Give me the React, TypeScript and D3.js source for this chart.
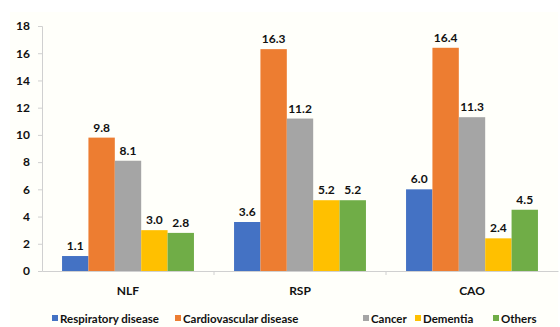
import { useRef, useEffect } from "react";
import * as d3 from "d3";

const categories = ["NLF", "RSP", "CAO"];
const seriesNames = ["Respiratory disease", "Cardiovascular disease", "Cancer", "Dementia", "Others"];
const respiratory = [1.1, 3.6, 6.0];
const cardiovascular = [9.8, 16.3, 16.4];
const cancer = [8.1, 11.2, 11.3];
const dementia = [3.0, 5.2, 2.4];
const others = [2.8, 5.2, 4.5];
const yTicks = [0, 2, 4, 6, 8, 10, 12, 14, 16, 18];
const colors = ["#4472C4", "#ED7D31", "#A5A5A5", "#FFC000", "#70AD47"];

const App = () => {
  const svgRef = useRef(null);

  useEffect(() => {
    const width = 560;
    const height = 327;
    const svg = d3.select(svgRef.current);
    svg.selectAll("*").remove();

    const margin = { top: 26, right: 2, bottom: 56, left: 42 };
    const font = "Lato, 'Open Sans', sans-serif";
    const allSeries = [respiratory, cardiovascular, cancer, dementia, others];

    svg.append("rect").attr("width", width).attr("height", height).attr("fill", "#ffffff");
    svg.append("rect").attr("x", 10).attr("y", 12).attr("width", 548).attr("height", 315).attr("fill", "#fffffa");

    const x0 = d3
      .scaleBand()
      .domain(categories)
      .range([margin.left, width - margin.right])
      .paddingInner(0)
      .paddingOuter(0);

    const x1 = d3
      .scaleBand()
      .domain(seriesNames)
      .range([0, x0.bandwidth()])
      .paddingOuter(0.76)
      .paddingInner(0);

    const y = d3
      .scaleLinear()
      .domain([0, 18])
      .range([height - margin.bottom, margin.top]);

    // eje Y
    const yAxis = svg
      .append("g")
      .attr("transform", `translate(${margin.left},0)`)
      .call(d3.axisLeft(y).tickValues(yTicks).tickSize(4).tickPadding(8));
    yAxis.select(".domain").attr("stroke", "#d0d0d0");
    yAxis.selectAll(".tick line").attr("stroke", "#d0d0d0");
    yAxis
      .selectAll(".tick text")
      .attr("font-family", font)
      .attr("font-weight", "bold")
      .attr("font-size", "12px")
      .attr("fill", "#111");

    const groups = svg
      .selectAll(".grp")
      .data(categories)
      .enter()
      .append("g")
      .attr("transform", (d) => `translate(${x0(d)},0)`);

    groups.each(function (cat, ci) {
      const g = d3.select(this);
      seriesNames.forEach((s, si) => {
        const v = allSeries[si][ci];
        g.append("rect")
          .attr("x", x1(s))
          .attr("y", y(v))
          .attr("width", x1.bandwidth())
          .attr("height", y(0) - y(v))
          .attr("fill", colors[si]);
        g.append("text")
          .attr("x", x1(s) + x1.bandwidth() / 2)
          .attr("y", y(v) - 6)
          .attr("text-anchor", "middle")
          .attr("font-family", font)
          .attr("font-weight", "bold")
          .attr("font-size", "12px")
          .attr("fill", "#111")
          .text(v.toFixed(1));
      });
    });

    // eje X
    const xAxis = svg
      .append("g")
      .attr("transform", `translate(0,${y(0)})`)
      .call(d3.axisBottom(x0).tickSize(0).tickPadding(15));
    xAxis.select(".domain").attr("stroke", "#d0d0d0");
    xAxis
      .selectAll(".tick text")
      .attr("font-family", font)
      .attr("font-weight", "bold")
      .attr("font-size", "12px")
      .attr("fill", "#111");
    categories.slice(1).forEach((c) => {
      svg
        .append("line")
        .attr("x1", x0(c))
        .attr("x2", x0(c))
        .attr("y1", y(0))
        .attr("y2", y(0) + 4)
        .attr("stroke", "#d0d0d0");
    });

    // leyenda
    const legendX = [52, 175, 363, 415, 493];
    const legend = svg.append("g").attr("transform", `translate(0,319)`);
    seriesNames.forEach((s, i) => {
      legend
        .append("rect")
        .attr("x", legendX[i])
        .attr("y", -4)
        .attr("width", 6)
        .attr("height", 6)
        .attr("fill", colors[i]);
      legend
        .append("text")
        .attr("x", legendX[i] + 8)
        .attr("y", 0)
        .attr("dy", "0.35em")
        .attr("font-family", font)
        .attr("font-weight", "bold")
        .attr("font-size", "11.5px")
        .attr("fill", "#111")
        .text(s);
    });
  }, []);

  return <svg ref={svgRef} width={560} height={327} style={{ display: "block", position: "absolute", left: 0, top: 0 }}></svg>;
};

export default App;
